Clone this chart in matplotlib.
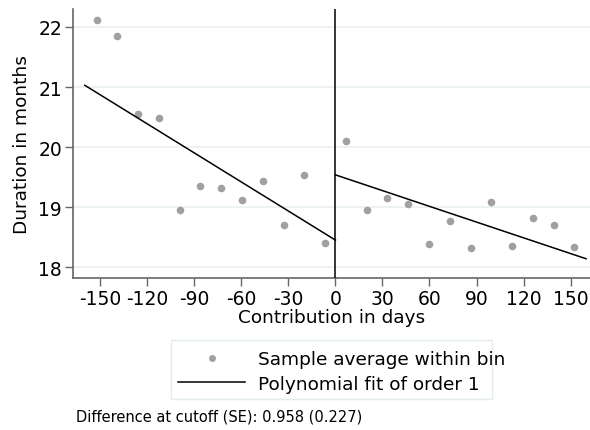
import matplotlib
matplotlib.use("Agg")
import matplotlib.pyplot as plt
from matplotlib.lines import Line2D
from matplotlib.patches import Rectangle

plt.rcParams["axes.unicode_minus"] = False

# bin averages, left of the cutoff
left_days = [-152.4, -139.2, -125.8, -112.6, -99.4, -86.3,
             -72.9, -59.7, -46.5, -33.1, -19.9, -6.7]
left_dur = [22.11, 21.85, 20.56, 20.48, 18.96, 19.36,
            19.32, 19.12, 19.43, 18.71, 19.54, 18.40]

# bin averages, right of the cutoff
right_days = [6.5, 19.9, 33.1, 46.5, 59.7, 72.9,
              86.3, 99.4, 112.6, 125.8, 139.2, 152.4]
right_dur = [20.10, 18.96, 19.16, 19.05, 18.39, 18.77,
             18.32, 19.09, 18.355, 18.82, 18.705, 18.345]

# linear fits (end points)
left_fit_x = [-159.9, 0]
left_fit_y = [21.03, 18.455]
right_fit_x = [0, 159.9]
right_fit_y = [19.54, 18.145]

xticks = [-150, -120, -90, -60, -30, 0, 30, 60, 90, 120, 150]
yticks = [18, 19, 20, 21, 22]

dot_color = "#a0a0a0"
spine_color = "#666666"

fig = plt.figure(figsize=(5.9, 4.31), dpi=100)
ax = fig.add_axes([0.123, 0.352, 0.877, 0.625])

ax.scatter(left_days, left_dur, s=30, color=dot_color, zorder=3, linewidths=0)
ax.scatter(right_days, right_dur, s=30, color=dot_color, zorder=3, linewidths=0)
ax.plot(left_fit_x, left_fit_y, color="black", lw=1.1, zorder=4)
ax.plot(right_fit_x, right_fit_y, color="black", lw=1.1, zorder=4)
ax.axvline(0, color="black", lw=1.1, zorder=4)

ax.set_xlim(-167.7, 162.4)
ax.set_ylim(17.82, 22.3)
ax.set_xticks(xticks)
ax.set_yticks(yticks)
ax.tick_params(labelsize=13.5, color=spine_color, length=6, width=1, pad=1.5)
ax.grid(axis="y", color="#eaf0f3", lw=1.2, zorder=0)
ax.set_axisbelow(True)

for side in ["top", "right"]:
    ax.spines[side].set_visible(False)
for side in ["left", "bottom"]:
    ax.spines[side].set_color(spine_color)
    ax.spines[side].set_linewidth(1.2)

ax.set_xlabel("Contribution in days", fontsize=13.3, labelpad=0)
ax.set_ylabel("Duration in months", fontsize=13.3, labelpad=5)

handles = [
    Line2D([], [], marker="o", ls="none", color=dot_color, markersize=5,
           markeredgewidth=0),
    Line2D([], [], color="black", lw=1.1),
]
fig.legend(handles, ["Sample average within bin", "Polynomial fit of order 1"],
           loc="upper left", bbox_to_anchor=(171 / 590, 1 - 344 / 431),
           fontsize=13.3, frameon=False, handlelength=3.6,
           borderpad=0.4, borderaxespad=0, labelspacing=0.35, handletextpad=0.7)

# legend frame, drawn as in the original (text runs past the box)
fig.patches.append(Rectangle((171 / 590, 1 - 400 / 431), 321 / 590, 59 / 431,
                             transform=fig.transFigure, fill=False,
                             edgecolor="#e3ecef", lw=1))

fig.text(76 / 590, 1 - 422 / 431, "Difference at cutoff (SE): 0.958 (0.227)",
         fontsize=10.5)

fig.savefig("out.png", dpi=100)
